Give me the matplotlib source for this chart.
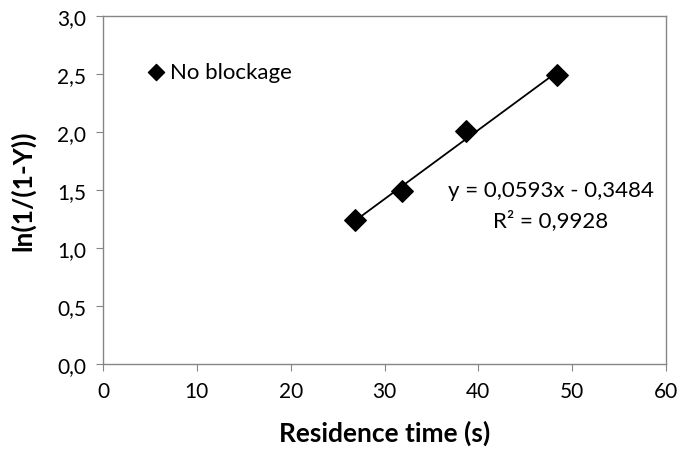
import numpy as np
import matplotlib.pyplot as plt
from matplotlib.ticker import FuncFormatter

# residence time (s) vs ln(1/(1-Y)), no blockage
residence_time = [26.9, 31.9, 38.7, 48.4]
ln_conv = [1.24, 1.49, 2.01, 2.49]
eq_text = "y = 0,0593x - 0,3484"
r2_text = "R² = 0,9928"

plt.rcParams['font.family'] = ['Lato', 'DejaVu Sans']

fig = plt.figure(figsize=(6.8, 4.56), dpi=100)
ax = fig.add_axes([103/680, 1 - 365/456, 563/680, 348/456])

ax.scatter(residence_time, ln_conv, marker='D', s=120, color='black', zorder=3,
           label='No blockage')

# linear trendline over data range
k, b = np.polyfit(residence_time, ln_conv, 1)
xs = np.array([min(residence_time), max(residence_time)])
ax.plot(xs, k * xs + b, color='black', lw=1.3, zorder=2)

# equation label placed in figure pixels (from top)
fig.text(551/680, 1 - 191/456, eq_text, fontsize=16, ha='center', va='center')
fig.text(551/680, 1 - 221/456, r2_text, fontsize=16, ha='center', va='center')

ax.set_xlim(0, 60)
ax.set_ylim(0, 3.0)
ax.set_xticks(np.arange(0, 61, 10))
ax.set_yticks(np.arange(0, 3.01, 0.5))
ax.yaxis.set_major_formatter(FuncFormatter(lambda v, p: f"{v:.1f}".replace('.', ',')))

for s in ax.spines.values():
    s.set_color('#868686')
    s.set_linewidth(1)
ax.tick_params(direction='out', length=5, color='#868686', labelsize=15,
               labelcolor='black', pad=7)

ax.set_xlabel('Residence time (s)', fontsize=19, fontweight='bold', labelpad=14)
ax.set_ylabel('ln(1/(1-Y))', fontsize=19, fontweight='bold', labelpad=16)

leg = ax.legend(loc='center left', bbox_to_anchor=(0.055, 0.84), frameon=False,
                fontsize=16, handletextpad=0.0, markerscale=0.75, borderaxespad=0,
                handlelength=1.2)

fig.savefig('out.png', dpi=100)
